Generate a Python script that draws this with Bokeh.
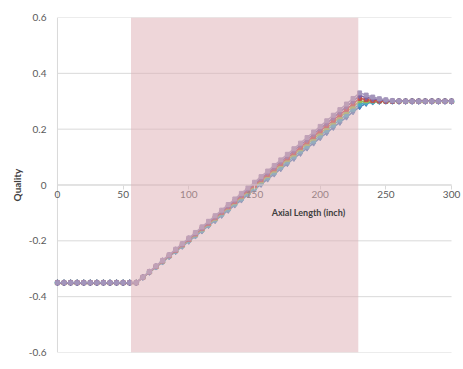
from bokeh.plotting import figure
from bokeh.models import BoxAnnotation, Label, FixedTicker, PrintfTickFormatter, Range1d
from bokeh.embed import file_html
from bokeh.resources import INLINE

# Axial positions of the nodes (inch)
axial = [0, 5, 10, 15, 20, 25, 30, 35, 40, 45, 50, 55,
         60, 65, 70, 75, 80, 85, 90, 95, 100, 105, 110, 115, 120, 125, 130, 135,
         140, 145, 150, 155, 160, 165, 170, 175, 180, 185, 190, 195, 200, 205,
         210, 215, 220, 225, 230,
         235, 240, 245, 250, 255, 260, 265, 270, 275, 280, 285, 290, 295, 300]

# Flow quality along the channel for each case
quality_f = [-0.350, -0.350, -0.350, -0.350, -0.350, -0.350, -0.350, -0.350, -0.350, -0.350, -0.350, -0.350,
             -0.350, -0.331, -0.313, -0.294, -0.276, -0.257, -0.239, -0.220, -0.202, -0.183, -0.165, -0.146,
             -0.128, -0.109, -0.091, -0.072, -0.054, -0.035, -0.016, 0.002, 0.021, 0.039, 0.058, 0.076,
             0.095, 0.113, 0.132, 0.150, 0.169, 0.187, 0.206, 0.224, 0.243, 0.262, 0.280,
             0.292, 0.297, 0.299, 0.300, 0.300, 0.300, 0.300, 0.300, 0.300, 0.300, 0.300, 0.300, 0.300, 0.300]
quality_e = [-0.350, -0.350, -0.350, -0.350, -0.350, -0.350, -0.350, -0.350, -0.350, -0.350, -0.350, -0.350,
             -0.350, -0.331, -0.312, -0.294, -0.275, -0.256, -0.237, -0.218, -0.199, -0.181, -0.162, -0.143,
             -0.124, -0.105, -0.087, -0.068, -0.049, -0.030, -0.011, 0.008, 0.026, 0.045, 0.064, 0.083,
             0.102, 0.121, 0.139, 0.158, 0.177, 0.196, 0.215, 0.234, 0.252, 0.271, 0.290,
             0.296, 0.299, 0.300, 0.300, 0.300, 0.300, 0.300, 0.300, 0.300, 0.300, 0.300, 0.300, 0.300, 0.300]
quality_d = [-0.350, -0.350, -0.350, -0.350, -0.350, -0.350, -0.350, -0.350, -0.350, -0.350, -0.350, -0.350,
             -0.350, -0.331, -0.312, -0.293, -0.274, -0.254, -0.235, -0.216, -0.197, -0.178, -0.159, -0.140,
             -0.121, -0.101, -0.082, -0.063, -0.044, -0.025, -0.006, 0.013, 0.032, 0.051, 0.071, 0.090,
             0.109, 0.128, 0.147, 0.166, 0.185, 0.204, 0.224, 0.243, 0.262, 0.281, 0.300,
             0.300, 0.300, 0.300, 0.300, 0.300, 0.300, 0.300, 0.300, 0.300, 0.300, 0.300, 0.300, 0.300, 0.300]
quality_c = [-0.350, -0.350, -0.350, -0.350, -0.350, -0.350, -0.350, -0.350, -0.350, -0.350, -0.350, -0.350,
             -0.350, -0.331, -0.311, -0.292, -0.272, -0.253, -0.234, -0.214, -0.195, -0.175, -0.156, -0.137,
             -0.117, -0.098, -0.078, -0.059, -0.039, -0.020, -0.001, 0.019, 0.038, 0.058, 0.077, 0.097,
             0.116, 0.135, 0.155, 0.174, 0.194, 0.213, 0.232, 0.252, 0.271, 0.291, 0.310,
             0.306, 0.303, 0.301, 0.300, 0.300, 0.300, 0.300, 0.300, 0.300, 0.300, 0.300, 0.300, 0.300, 0.300]
quality_b = [-0.350, -0.350, -0.350, -0.350, -0.350, -0.350, -0.350, -0.350, -0.350, -0.350, -0.350, -0.350,
             -0.350, -0.330, -0.311, -0.291, -0.271, -0.251, -0.232, -0.212, -0.192, -0.173, -0.153, -0.133,
             -0.114, -0.094, -0.074, -0.054, -0.035, -0.015, 0.005, 0.024, 0.044, 0.064, 0.084, 0.103,
             0.123, 0.143, 0.162, 0.182, 0.202, 0.221, 0.241, 0.261, 0.281, 0.300, 0.320,
             0.314, 0.309, 0.305, 0.302, 0.301, 0.300, 0.300, 0.300, 0.300, 0.300, 0.300, 0.300, 0.300, 0.300]
quality_a = [-0.350, -0.350, -0.350, -0.350, -0.350, -0.350, -0.350, -0.350, -0.350, -0.350, -0.350, -0.350,
             -0.350, -0.330, -0.310, -0.290, -0.270, -0.250, -0.230, -0.210, -0.190, -0.170, -0.150, -0.130,
             -0.110, -0.090, -0.070, -0.050, -0.030, -0.010, 0.010, 0.030, 0.050, 0.070, 0.090, 0.110,
             0.130, 0.150, 0.170, 0.190, 0.210, 0.230, 0.250, 0.270, 0.290, 0.310, 0.330,
             0.322, 0.315, 0.309, 0.305, 0.302, 0.301, 0.300, 0.300, 0.300, 0.300, 0.300, 0.300, 0.300, 0.300]

# Heated section of the channel (inch)
heated_start = 56
heated_end = 229

y_ticks = [-0.6, -0.4, -0.2, 0, 0.2, 0.4, 0.6]
x_ticks = [0, 50, 100, 150, 200, 250, 300]

FONT = "Lato"
GRID = "#d9d9d9"
LABEL = "#595959"

# the frame runs a little past 0 and 300 so the end numbers of the axis stay whole
p = figure(width=463, height=369, output_backend="svg", toolbar_location=None,
           x_range=Range1d(-5.3, 309.1), y_range=Range1d(-0.6, 0.6),
           min_border_left=50, min_border_right=0, min_border_top=17, min_border_bottom=17)
p.outline_line_color = None
p.background_fill_color = "white"
p.border_fill_color = "white"
p.xgrid.visible = False
p.ygrid.visible = False

x_lo, x_hi = x_ticks[0], x_ticks[-1]
y_lo, y_hi = y_ticks[0], y_ticks[-1]

# horizontal gridlines over the plotting area
p.segment(x0=[x_lo] * len(y_ticks), x1=[x_hi] * len(y_ticks), y0=y_ticks, y1=y_ticks,
          line_color=GRID, line_width=1)
# vertical axis line at zero length
p.segment(x0=[x_lo], x1=[x_lo], y0=[y_lo], y1=[y_hi], line_color=GRID, line_width=1)

# curves, drawn so that the light purple case ends up on top
series = [
    (quality_f, "#4f81bd", "diamond", 6),
    (quality_e, "#4bacc6", "circle", 5),
    (quality_d, "#9bbb59", "triangle", 5),
    (quality_c, "#c0504d", "square", 4),
    (quality_b, "#8064a2", "diamond", 6),
    (quality_a, "#a395bb", "square", 4),
]
for vals, color, marker, size in series:
    p.line(axial, vals, line_color=color, line_width=1.5)
    p.scatter(axial, vals, marker=marker, size=size, fill_color=color, line_color=color)

# shaded heated region over the curves
p.add_layout(BoxAnnotation(left=heated_start, right=heated_end, bottom=y_lo, top=y_hi,
                           fill_color="#ddadb3", fill_alpha=0.5, line_color=None))

# vertical axis: numbers only, its line is drawn at zero length above
p.yaxis.ticker = FixedTicker(ticks=y_ticks)
p.yaxis.formatter = PrintfTickFormatter(format="%g")
p.yaxis.axis_line_color = None
p.yaxis.major_tick_line_color = None
p.yaxis.minor_tick_line_color = None
p.yaxis.major_tick_out = 0
p.yaxis.major_tick_in = 0
p.yaxis.major_label_standoff = 4
p.yaxis.axis_label = "Quality"
p.yaxis.axis_label_text_font = FONT
p.yaxis.axis_label_text_font_style = "bold"
p.yaxis.axis_label_text_font_size = "10px"
p.yaxis.axis_label_text_color = "#404040"
p.yaxis.axis_label_standoff = 3

# horizontal axis crossing at zero quality
p.xaxis.ticker = FixedTicker(ticks=x_ticks)
p.xaxis.fixed_location = 0
p.xaxis.axis_line_color = None
p.xaxis.major_tick_line_color = GRID
p.xaxis.major_tick_out = 4
p.xaxis.major_tick_in = 0
p.xaxis.minor_tick_line_color = None
p.xaxis.major_label_standoff = 2
p.segment(x0=[x_lo], x1=[x_hi], y0=[0], y1=[0], line_color=GRID, line_width=1)

for ax in (p.xaxis, p.yaxis):
    ax.major_label_text_font = FONT
    ax.major_label_text_font_size = "10px"
    ax.major_label_text_color = LABEL

p.add_layout(Label(x=191, y=-0.1, text="Axial Length (inch)", text_align="center",
                   text_baseline="middle", text_font=FONT, text_font_style="bold",
                   text_font_size="9px", text_color="#404040"))

open("out.html", "w").write(file_html(p, INLINE))
